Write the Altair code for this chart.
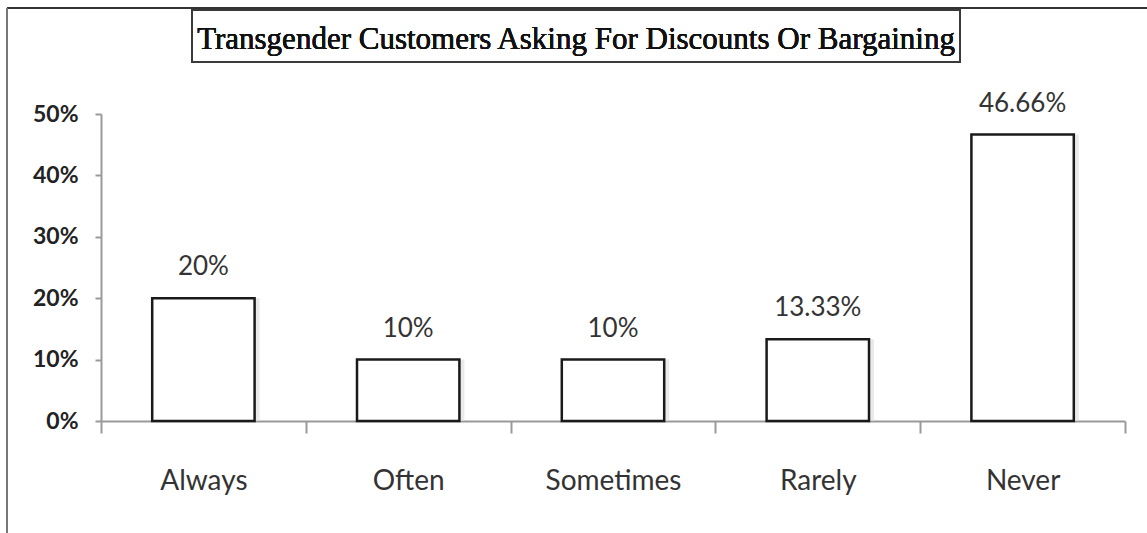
import altair as alt
import pandas as pd

# Survey responses
categories = ["Always", "Often", "Sometimes", "Rarely", "Never"]
shares = [0.20, 0.10, 0.10, 0.1333, 0.4666]
title_text = "Transgender Customers Asking For Discounts Or Bargaining"
y_ticks = [0.0, 0.1, 0.2, 0.3, 0.4, 0.5]

df = pd.DataFrame({"response": categories, "share": shares})

W, H = 1024, 307
PAD_L, PAD_T, PAD_R, PAD_B = 101, 114, 22, 112

x_enc = alt.X(
    "response:N",
    sort=categories,
    scale=alt.Scale(paddingInner=0, paddingOuter=0),
    axis=alt.Axis(
        title=None,
        labelAngle=0,
        labelFont="Lato",
        labelFontSize=28,
        labelColor="#333333",
        labelPadding=34,
        tickBand="extent",
        tickSize=12,
        tickColor="#9a9a9a",
        tickWidth=2,
        domainColor="#9a9a9a",
        domainWidth=2,
    ),
)
y_enc = alt.Y(
    "share:Q",
    scale=alt.Scale(domain=[0, 0.5], nice=False),
    axis=alt.Axis(
        title=None,
        values=y_ticks,
        format=".0%",
        grid=False,
        labelFont="Lato",
        labelFontWeight="bold",
        labelFontSize=23,
        labelColor="#222222",
        labelPadding=17,
        tickSize=6,
        tickColor="#9a9a9a",
        tickWidth=2,
        domainColor="#9a9a9a",
        domainWidth=2,
    ),
)

base = alt.Chart(df)

shadow = base.mark_bar(
    width=alt.RelativeBandSize(0.5), xOffset=5, fill="#dcdcdc", opacity=0.6
).encode(x=x_enc, y=y_enc)

bars = base.mark_bar(
    width=alt.RelativeBandSize(0.5), fill="white", stroke="#1a1a1a", strokeWidth=2.5
).encode(x=x_enc, y=y_enc)

labels = base.mark_text(
    dy=-31, font="Lato", fontSize=26, color="#333333", baseline="middle"
).encode(x=x_enc, y=y_enc, text=alt.Text("share:Q", format=".2~%"))

# Frame lines along the top and left edges
frame_top = base.mark_rule(color="#333333", strokeWidth=2).encode(
    x=alt.value(-94), x2=alt.value(W + PAD_R), y=alt.value(-106)
)
frame_left = base.mark_rule(color="#777777", strokeWidth=2).encode(
    x=alt.value(-94), y=alt.value(-106), y2=alt.value(H + PAD_B)
)

# Boxed title
title_box = base.mark_rect(fill="white", stroke="#3a3a3a", strokeWidth=2).encode(
    x=alt.value(91), x2=alt.value(859), y=alt.value(-104), y2=alt.value(-52)
)
title = base.mark_text(
    text=title_text,
    font="Liberation Serif",
    fontSize=31,
    color="#111111",
    align="center",
    baseline="alphabetic",
).encode(x=alt.value(475), y=alt.value(-65))

chart = (
    alt.layer(frame_top, frame_left, title_box, title, shadow, bars, labels)
    .properties(
        width=W,
        height=H,
        autosize=alt.AutoSizeParams(type="none"),
        padding={"left": PAD_L, "top": PAD_T, "right": PAD_R, "bottom": PAD_B},
        background="white",
    )
    .configure_view(stroke=None)
)

chart.save("out.html", embed_options={"renderer": "svg", "actions": False})
